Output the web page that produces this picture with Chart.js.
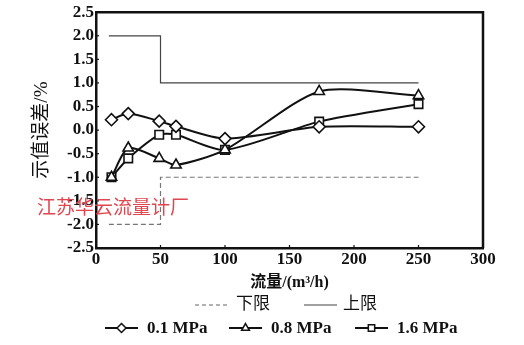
<!DOCTYPE html>
<html>
<head>
<meta charset="utf-8">
<script src="https://cdn.jsdelivr.net/npm/chart.js@4.4.1/dist/chart.umd.min.js"></script>
<style>
  html, body { margin: 0; padding: 0; background: #fff; }
  #wrap { position: relative; width: 524px; height: 345px; }
  #mark { position: absolute; left: 37px; top: 192px; font: 19px "Liberation Serif", "Noto Sans CJK SC", serif; color: #e0464f; pointer-events: none; }
</style>
</head>
<body>
<div id="wrap">
  <canvas id="c" width="524" height="345"></canvas>
  <div id="mark">江苏华云流量计厂</div>
</div>
<script>
// ── data ──
const flow = [12, 25, 49, 62, 100, 173, 250];
const err01 = [0.22, 0.35, 0.19, 0.08, -0.18, 0.07, 0.07];
const err08 = [-1.0, -0.38, -0.6, -0.74, -0.42, 0.82, 0.73];
const err16 = [-1.0, -0.6, -0.1, -0.1, -0.42, 0.18, 0.55];
const upperX = [10, 50, 50, 250];
const upperY = [2.0, 2.0, 1.0, 1.0];
const lowerX = [10, 50, 50, 250];
const lowerY = [-2.0, -2.0, -1.0, -1.0];
const xTicks = [0, 50, 100, 150, 200, 250, 300];
const yTicks = [-2.5, -2.0, -1.5, -1.0, -0.5, 0.0, 0.5, 1.0, 1.5, 2.0, 2.5];

const SERIF = '"Liberation Serif", "Noto Sans CJK SC", serif';
const pts = (xs, ys) => xs.map((x, i) => ({ x, y: ys[i] }));

const series = (label, data, style) => ({
  label, data: pts(flow, data), borderColor: '#111', borderWidth: 2,
  pointStyle: style, pointRadius: 6, pointBackgroundColor: '#fff',
  pointBorderColor: '#111', pointBorderWidth: 1.6, tension: 0.25, fill: false
});

// frame around the plot, small inward ticks, hand-placed two-row legend
const extras = {
  id: 'extras',
  afterDraw(chart) {
    const { ctx, chartArea: a, scales } = chart;
    ctx.save();
    ctx.strokeStyle = '#111'; ctx.lineWidth = 2.5;
    ctx.beginPath();
    ctx.moveTo(a.left, a.top); ctx.lineTo(a.right, a.top); ctx.lineTo(a.right, a.bottom);
    ctx.stroke();
    ctx.lineWidth = 1.2;
    xTicks.forEach(v => {
      const px = scales.x.getPixelForValue(v);
      ctx.beginPath(); ctx.moveTo(px, a.bottom); ctx.lineTo(px, a.bottom - 3); ctx.stroke();
    });
    yTicks.forEach(v => {
      const py = scales.y.getPixelForValue(v);
      ctx.beginPath(); ctx.moveTo(a.left, py); ctx.lineTo(a.left + 3, py); ctx.stroke();
    });

    ctx.fillStyle = '#111'; ctx.textBaseline = 'middle';
    // row 1
    ctx.strokeStyle = '#666'; ctx.lineWidth = 1.2;
    ctx.setLineDash([4, 3]);
    ctx.beginPath(); ctx.moveTo(195, 305); ctx.lineTo(228, 305); ctx.stroke();
    ctx.setLineDash([]);
    ctx.strokeStyle = '#444';
    ctx.beginPath(); ctx.moveTo(304, 305); ctx.lineTo(337, 305); ctx.stroke();
    ctx.font = '17px ' + SERIF;
    ctx.fillText('下限', 236, 305);
    ctx.fillText('上限', 343, 305);
    // row 2
    ctx.font = 'bold 17px ' + SERIF;
    const row = [[105, 'rectRot', '0.1 MPa'], [229, 'triangle', '0.8 MPa'], [355, 'rect', '1.6 MPa']];
    row.forEach(([x0, st, txt]) => {
      ctx.strokeStyle = '#111'; ctx.lineWidth = 2;
      ctx.beginPath(); ctx.moveTo(x0, 328); ctx.lineTo(x0 + 33, 328); ctx.stroke();
      ctx.fillStyle = '#fff'; ctx.lineWidth = 1.5;
      Chart.helpers.drawPoint(ctx, { pointStyle: st, radius: 4.5, borderWidth: 1.5 }, x0 + 16.5, 328);
      ctx.fillStyle = '#111';
      ctx.fillText(txt, x0 + 42, 329);
    });
    ctx.restore();
  }
};

new Chart(document.getElementById('c'), {
  type: 'line',
  data: {
    datasets: [
      { label: '下限', data: pts(lowerX, lowerY), borderColor: '#777', borderWidth: 1.2, borderDash: [5, 3], pointRadius: 0, tension: 0 },
      { label: '上限', data: pts(upperX, upperY), borderColor: '#444', borderWidth: 1.2, pointRadius: 0, tension: 0 },
      series('0.1 MPa', err01, 'rectRot'),
      series('0.8 MPa', err08, 'triangle'),
      series('1.6 MPa', err16, 'rect')
    ]
  },
  options: {
    responsive: false, animation: false,
    layout: { padding: { left: 0, right: 41, top: -4, bottom: 53 } },
    plugins: { legend: { display: false }, tooltip: { enabled: false } },
    scales: {
      x: {
        type: 'linear', min: 0, max: 300,
        afterBuildTicks: s => { s.ticks = xTicks.map(v => ({ value: v })); },
        afterFit: s => { s.height = 44; },
        border: { color: '#111', width: 2.5 },
        grid: { display: false, drawTicks: false },
        ticks: { color: '#111', font: { family: SERIF, size: 17, weight: 'bold' }, padding: 1, maxRotation: 0 },
        title: { display: true, text: '流量/(m³/h)', color: '#111', font: { family: SERIF, size: 16, weight: 'bold' }, padding: { top: 0, bottom: 0 } }
      },
      y: {
        min: -2.5, max: 2.5,
        afterBuildTicks: s => { s.ticks = yTicks.map(v => ({ value: v })); },
        afterFit: s => { s.width = 96; },
        border: { color: '#111', width: 2.5 },
        grid: { display: false, drawTicks: false },
        ticks: { color: '#111', font: { family: SERIF, size: 17, weight: 'bold' }, padding: 2, callback: v => v.toFixed(1) },
        title: { display: true, text: '示值误差/%', color: '#111', font: { family: SERIF, size: 19 }, padding: { top: 31, bottom: 0 } }
      }
    }
  },
  plugins: [extras]
});
</script>
</body>
</html>
